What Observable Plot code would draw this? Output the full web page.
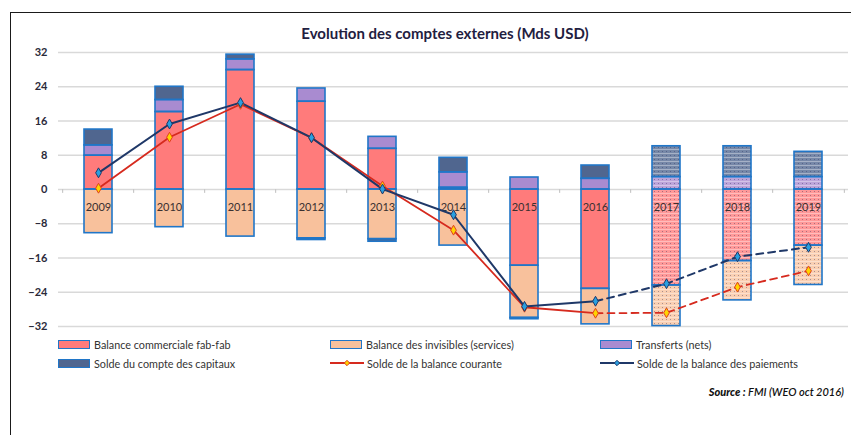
<!DOCTYPE html>
<html><head><meta charset="utf-8">
<script src="https://cdn.jsdelivr.net/npm/d3@7"></script>
<script src="https://cdn.jsdelivr.net/npm/@observablehq/plot@0.6"></script>
<style>
body{margin:0;width:851px;height:435px;overflow:hidden;background:#fff;font-family:Lato,"Open Sans",sans-serif;position:relative}
#frame{position:absolute;left:10px;top:12px;width:900px;height:500px;border-left:1.5px solid #1a1a1a;border-top:1.5px solid #1a1a1a}
#title{position:absolute;left:0;width:890px;top:24px;text-align:center;font-weight:bold;font-size:15px;color:#1f2040;line-height:18px}
#chart{position:absolute;left:0;top:0}
.leg{position:absolute;font-size:10.8px;color:#333;display:flex;align-items:center;height:14px;white-space:nowrap}
.sw{width:30px;height:7px;border:1.5px solid #2076c8;margin-right:4px}
.lsw{width:34px;height:12px;margin-right:3px}
#source{position:absolute;right:7px;top:385px;font-size:11px;font-style:italic;font-weight:600;color:#111}
</style></head>
<body>
<svg width="0" height="0" style="position:absolute">
  <defs>
    <pattern id="dots" width="8" height="4" patternUnits="userSpaceOnUse">
      <rect x="0" y="0" width="8" height="4" fill="#ffffff" fill-opacity="0.22"></rect>
      <rect x="0" y="1" width="8" height="1" fill="#ffffff" fill-opacity="0.35"></rect>
      <rect x="2" y="3" width="1" height="1" fill="#2a2a55" fill-opacity="0.4"></rect>
      <rect x="6" y="3" width="1" height="1" fill="#2a2a55" fill-opacity="0.4"></rect>
    </pattern>
  </defs>
</svg>
<div id="frame"></div>
<div id="title">Evolution des comptes externes (Mds USD)</div>
<div id="chart"></div>
<div id="legend"></div>
<div id="source"><b>Source :</b> FMI (WEO oct 2016)</div>
<script>
const years = [2009, 2010, 2011, 2012, 2013, 2014, 2015, 2016, 2017, 2018, 2019];
const commercial = [7.9, 18.1, 27.9, 20.5, 9.5, 0.4, -17.8, -23.2, -22.4, -16.7, -13.1];
const invisibles = [-10.2, -8.8, -11.0, -11.4, -11.6, -13.1, -12.2, -8.3, -9.5, -9.2, -9.2];
const transfers = [2.4, 2.8, 2.5, 3.1, 2.8, 3.6, 2.8, 2.5, 2.9, 2.9, 2.9];
const capital = [3.7, 3.1, 1.1, -0.4, -0.6, 3.4, -0.3, 3.1, 7.2, 7.2, 5.9];
const current = [0.3, 12.2, 19.9, 12.1, 0.8, -9.5, -27.5, -28.9, -28.8, -22.8, -19.0];
const bop = [3.9, 15.3, 20.3, 12.1, 0.1, -5.9, -27.3, -26.1, -22.0, -15.7, -13.5];
const yTicks = [-32, -24, -16, -8, 0, 8, 16, 24, 32];
const firstForecast = 2017;
const barNames = ["Balance commerciale fab-fab", "Balance des invisibles (services)", "Transferts (nets)", "Solde du compte des capitaux"];
const lineNames = ["Solde de la balance courante", "Solde de la balance des paiements"];
const barColors = ["#ff7b7b", "#f8c19c", "#a98bd0", "#50668f"];
const lineColors = ["#d62a1e", "#1f3868"];

const barRows = [];
[commercial, invisibles, transfers, capital].forEach((arr, i) =>
  arr.forEach((v, j) => barRows.push({year: String(years[j]), series: barNames[i], value: v, forecast: years[j] >= firstForecast})));
const lineRows = years.map((y, j) => ({year: String(y), current: current[j], bop: bop[j], yr: y}));

const W = 851, H = 336, ML = 58, MR = 3;
const step = (W - ML - MR) / years.length;

const chart = Plot.plot({
  width: W, height: H,
  marginTop: 52, marginBottom: 10, marginLeft: ML, marginRight: MR,
  style: {fontFamily: "Lato, 'Open Sans', sans-serif", background: "transparent"},
  x: {domain: years.map(String), paddingInner: 0.61, paddingOuter: 0.305, axis: null},
  y: {domain: [-32, 32], axis: null},
  color: {domain: barNames, range: barColors},
  marks: [
    Plot.ruleY(yTicks, {stroke: "#d9d9d9", strokeWidth: 1.5}),
    Plot.axisY(yTicks, {tickSize: 0, tickPadding: 11, fontSize: 11, fill: "#2a2a3a", fontWeight: "bold", label: null}),
    Plot.ruleX(lineRows, {x: "year", y1: 0, y2: -0.9, dx: -step / 2, stroke: "#c8c8c8", strokeWidth: 1.2}),
    Plot.ruleX(lineRows.slice(-1), {x: "year", y1: 0, y2: -0.9, dx: step / 2, stroke: "#c8c8c8", strokeWidth: 1.2}),
    Plot.barY(barRows, {x: "year", y: "value", fill: "series"}),
    Plot.barY(barRows, {filter: d => d.forecast, x: "year", y: "value", fill: "url(#dots)"}),
    Plot.barY(barRows, {x: "year", y: "value", fill: "none", stroke: "#2076c8", strokeWidth: 1.6}),
    Plot.text(lineRows, {x: "year", y: 0, text: "year", dy: 18, fontSize: 11, fill: "#3a3030"}),
    Plot.lineY(lineRows.filter(d => d.yr < firstForecast), {x: "year", y: "current", stroke: lineColors[0], strokeWidth: 1.8}),
    Plot.lineY(lineRows.filter(d => d.yr >= firstForecast - 1), {x: "year", y: "current", stroke: lineColors[0], strokeWidth: 1.8, strokeDasharray: "7,5"}),
    Plot.lineY(lineRows.filter(d => d.yr < firstForecast), {x: "year", y: "bop", stroke: lineColors[1], strokeWidth: 2}),
    Plot.lineY(lineRows.filter(d => d.yr >= firstForecast - 1), {x: "year", y: "bop", stroke: lineColors[1], strokeWidth: 2, strokeDasharray: "7,5"}),
    Plot.dot(lineRows, {x: "year", y: "current", symbol: "diamond", r: 3, fill: "#ffd400", stroke: "#e0401c", strokeWidth: 1}),
    Plot.dot(lineRows, {x: "year", y: "bop", symbol: "diamond", r: 3, fill: "#2a9fe0", stroke: "#1f3868", strokeWidth: 1})
  ]
});
document.getElementById("chart").appendChild(chart);

// legend
const legend = document.getElementById("legend");
const cols = [58, 330, 600];
const rows = [337, 356];
const items = [
  {name: barNames[0], type: "bar", color: barColors[0]},
  {name: barNames[1], type: "bar", color: barColors[1]},
  {name: barNames[2], type: "bar", color: barColors[2]},
  {name: barNames[3], type: "bar", color: barColors[3]},
  {name: lineNames[0], type: "line", color: lineColors[0], mfill: "#ffd400", mstroke: "#e0401c"},
  {name: lineNames[1], type: "line", color: lineColors[1], mfill: "#2a9fe0", mstroke: "#1f3868"}
];
items.forEach((it, i) => {
  const el = document.createElement("div");
  el.className = "leg";
  el.style.left = cols[i % 3] + "px";
  el.style.top = rows[Math.floor(i / 3)] + "px";
  if (it.type === "bar") {
    const s = document.createElement("div");
    s.className = "sw";
    s.style.background = it.color;
    el.appendChild(s);
  } else {
    const s = document.createElementNS("http://www.w3.org/2000/svg", "svg");
    s.setAttribute("class", "lsw");
    s.setAttribute("width", 34); s.setAttribute("height", 12);
    s.innerHTML = `<line x1="0" x2="34" y1="6" y2="6" stroke="${it.color}" stroke-width="1.8"/>` +
      `<path d="M17,3.3L19.7,6L17,8.7L14.3,6Z" fill="${it.mfill}" stroke="${it.mstroke}" stroke-width="1"/>`;
    el.appendChild(s);
  }
  const t = document.createElement("span");
  t.textContent = it.name;
  el.appendChild(t);
  legend.appendChild(el);
});
</script>
</body></html>
